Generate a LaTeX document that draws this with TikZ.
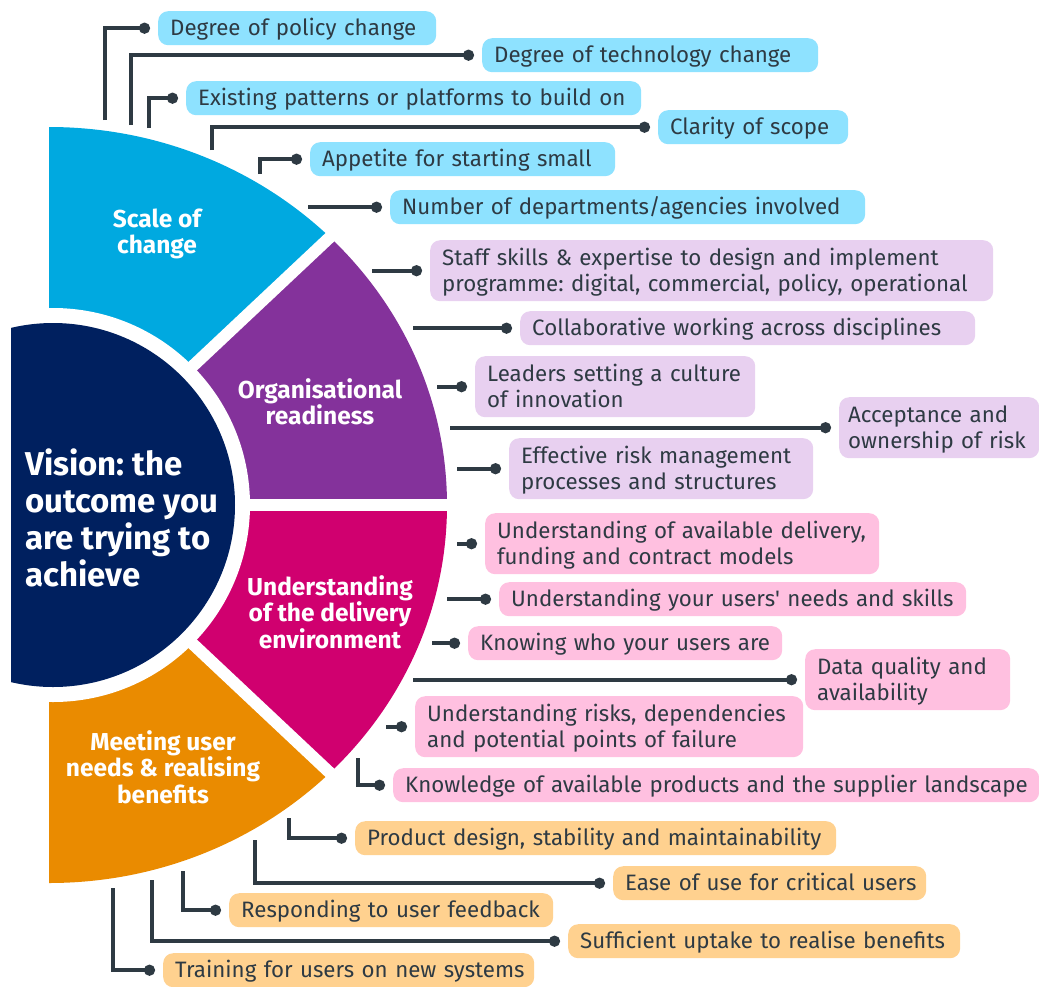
\documentclass[tikz,border=0pt]{standalone}
\usepackage{fontspec}
\setmainfont{Fira Sans}
\usetikzlibrary{arrows.meta}

\definecolor{scaleblue}{HTML}{00A9E0}
\definecolor{orgpurple}{HTML}{84329B}
\definecolor{envmagenta}{HTML}{D0006F}
\definecolor{userorange}{HTML}{EA8B00}
\definecolor{visionnavy}{HTML}{00205F}
\definecolor{tintblue}{HTML}{8EE2FF}
\definecolor{tintpurple}{HTML}{E8D0F0}
\definecolor{tintpink}{HTML}{FFC0E0}
\definecolor{tintorange}{HTML}{FFD18F}
\definecolor{ink}{HTML}{2E3A43}

% one unbreakable line of a label, and the strut that sets label line height
\newcommand\lline[1]{\mbox{#1}}
\newcommand\lblstrut{\rule[-5.5pt]{0pt}{26pt}}

\begin{document}
\frenchspacing
\begin{tikzpicture}[x=1pt,y=-1pt,
  lbl/.style={rounded corners=10, inner xsep=12, inner ysep=0, anchor=north west,
    text=ink, align=left, font=\fontsize{22.3}{26}\selectfont,
    execute at begin node=\lblstrut, execute at end node=\lblstrut},
  one/.style={minimum height=34},
  two/.style={minimum height=61},
  conn/.style={draw=ink, line width=4, -{Circle[length=11pt,width=11pt]}},
  title/.style={text=white, align=center, inner sep=0, font=\bfseries\fontsize{24.5}{26.5}\selectfont}
]
\fill[white] (0,0) rectangle (1039,986);
\useasboundingbox (0,0) rectangle (1039,986);

% ---- outer ring of four themes ----
\begin{scope}
  \clip (49,0) rectangle (1039,986);
  \begin{scope}
    \clip (45,505) -- (628,-43) -- (0,-43) -- (0,505) -- cycle;
    \fill[scaleblue] (49,505) ellipse [x radius=398, y radius=378];
  \end{scope}
  \begin{scope}
    \clip (45,505) -- (628,-43) -- (700,-43) -- (700,505) -- cycle;
    \fill[orgpurple] (49,505) ellipse [x radius=398, y radius=378];
  \end{scope}
  \begin{scope}
    \clip (45,505) -- (628,1053) -- (700,1053) -- (700,505) -- cycle;
    \fill[envmagenta] (49,505) ellipse [x radius=398, y radius=378];
  \end{scope}
  \begin{scope}
    \clip (45,505) -- (628,1053) -- (0,1053) -- (0,505) -- cycle;
    \fill[userorange] (49,505) ellipse [x radius=398, y radius=378];
  \end{scope}
  % white gaps between the themes
  \draw[white, line width=12] (45,505) -- (628,-43);
  \draw[white, line width=12] (45,505) -- (600,505);
  \draw[white, line width=12] (45,505) -- (628,1053);
\end{scope}
\fill[white] (53,505) circle [radius=197];

% ---- central vision disc ----
\begin{scope}
  \clip (11,0) rectangle (400,986);
  \fill[visionnavy] (53,505) circle [radius=182];
\end{scope}
\node[text=white, anchor=west, align=left, inner sep=0,
  font=\bfseries\fontsize{33}{37.2}\selectfont] (vision) at (25,518)
  {Vision: the\\outcome you\\are trying to\\achieve};

% ---- theme titles ----
\node[title] (scale) at (157,234) {Scale of\\change};
\node[title] (org) at (320,402) {Organisational\\readiness};
\node[title] (env) at (330,612) {Understanding\\of the delivery\\environment};
\node[title] (user) at (163,767) {Meeting user\\needs \& realising\\benefits};

% ---- factor labels ----
\node[lbl,one,fill=tintblue,text width=254] (n1) at (158,11) {\lline{Degree of policy change}};
\node[lbl,one,fill=tintblue,text width=312] (n2) at (482,38) {\lline{Degree of technology change}};
\node[lbl,one,fill=tintblue,text width=431] (n3) at (186,81) {\lline{Existing patterns or platforms to build on}};
\node[lbl,one,fill=tintblue,text width=166] (n4) at (658,110) {\lline{Clarity of scope}};
\node[lbl,one,fill=tintblue,text width=281] (n5) at (310,142) {\lline{Appetite for starting small}};
\node[lbl,one,fill=tintblue,text width=451] (n6) at (390,190) {\lline{Number of departments/agencies involved}};

\node[lbl,two,fill=tintpurple,text width=539] (n7) at (430,240) {\lline{Staff skills \& expertise to design and implement}\\\lline{programme: digital, commercial, policy, operational}};
\node[lbl,one,fill=tintpurple,text width=431] (n8) at (520,311) {\lline{Collaborative working across disciplines}};
\node[lbl,two,fill=tintpurple,text width=256] (n9) at (475,356) {\lline{Leaders setting a culture}\\\lline{of innovation}};
\node[lbl,two,fill=tintpurple,text width=182,inner xsep=9] (n10) at (839,397) {\lline{Acceptance and}\\\lline{ownership of risk}};
\node[lbl,two,fill=tintpurple,text width=280] (n11) at (509,438) {\lline{Effective risk management}\\\lline{processes and structures}};

\node[lbl,two,fill=tintpink,text width=370] (n12) at (485,513) {\lline{Understanding of available delivery,}\\\lline{funding and contract models}};
\node[lbl,one,fill=tintpink,text width=443] (n13) at (499,582) {\lline{Understanding your users\textquotesingle\ needs and skills}};
\node[lbl,one,fill=tintpink,text width=290] (n14) at (468,626) {\lline{Knowing who your users are}};
\node[lbl,two,fill=tintpink,text width=181] (n15) at (805,649) {\lline{Data quality and}\\\lline{availability}};
\node[lbl,two,fill=tintpink,text width=364] (n16) at (415,696) {\lline{Understanding risks, dependencies}\\\lline{and potential points of failure}};
\node[lbl,one,fill=tintpink,text width=622] (n17) at (393,768) {\lline{Knowledge of available products and the supplier landscape}};

\node[lbl,one,fill=tintorange,text width=457] (n18) at (355,821) {\lline{Product design, stability and maintainability}};
\node[lbl,one,fill=tintorange,text width=289] (n19) at (613,866) {\lline{Ease of use for critical users}};
\node[lbl,one,fill=tintorange,text width=300] (n20) at (229,893) {\lline{Responding to user feedback}};
\node[lbl,one,fill=tintorange,text width=368] (n21) at (568,924) {\lline{Sufficient uptake to realise benefits}};
\node[lbl,one,fill=tintorange,text width=347] (n22) at (163,953) {\lline{Training for users on new systems}};

% ---- connector start points beside the ring ----
\coordinate (s1) at (105,120);
\coordinate (s2) at (131,125);
\coordinate (s3) at (149,128);
\coordinate (s4) at (212,150);
\coordinate (s5) at (260,174);
\coordinate (s6) at (308,0 |- n6.west);
\coordinate (s7) at (372,0 |- n7.west);
\coordinate (s8) at (413,0 |- n8.west);
\coordinate (s9) at (437,0 |- n9.west);
\coordinate (s10) at (450,0 |- n10.west);
\coordinate (s11) at (457,0 |- n11.west);
\coordinate (s12) at (457,0 |- n12.west);
\coordinate (s13) at (447,0 |- n13.west);
\coordinate (s14) at (432,0 |- n14.west);
\coordinate (s15) at (413,0 |- n15.west);
\coordinate (s16) at (386,0 |- n16.west);
\coordinate (s17) at (358,758);
\coordinate (s18) at (289,818);
\coordinate (s19) at (255,840);
\coordinate (s20) at (183,871);
\coordinate (s21) at (152,880);
\coordinate (s22) at (113,888);

% ---- connectors ----
\foreach \i in {1,2,3,4,5,17,18,19,20,21,22}
  \draw[conn] (s\i) |- ([xshift=-8]n\i.west);
\foreach \i in {6,7,8,9,10,11,12,13,14,15,16}
  \draw[conn] (s\i) -- ([xshift=-8]n\i.west);
\end{tikzpicture}
\end{document}
